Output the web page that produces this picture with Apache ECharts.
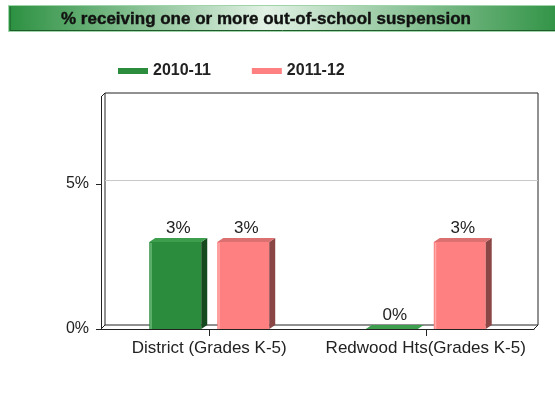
<!DOCTYPE html>
<html>
<head>
<meta charset="utf-8">
<script src="https://cdn.jsdelivr.net/npm/echarts@6/dist/echarts.min.js"></script>
<style>
html,body{margin:0;padding:0;background:#fff;}
#chart{width:555px;height:401px;}
</style>
</head>
<body>
<div id="chart"></div>
<script>
// ---- data ----
const chartTitle = '% receiving one or more out-of-school suspension';
const categories = ['District (Grades K-5)', 'Redwood Hts(Grades K-5)'];
const seriesNames = ['2010-11', '2011-12'];
const values2010 = [3, 0];
const values2011 = [3, 3];
const yTickValues = [0, 5];
const yMax = 8;

// ---- layout / style ----
const FONT = '"Liberation Sans", Arial, sans-serif';
const front = { left: 101, right: 21, top: 97, bottom: 72 };
const depth = 4;
const back = { left: front.left + depth, right: front.right - depth, top: front.top - depth, bottom: front.bottom + depth };
const W = 555, H = 401;
const barDx = 6, barDy = 4;
const palettes = [
  { front: '#2a8c3c', side: '#17491f', top: '#3d9e4d', hi: '#7cc489' },
  { front: '#ff8080', side: '#8a4545', top: '#dc7070', hi: '#ffb3b3' }
];

function make3DRender(idx) {
  const sign = idx === 0 ? -1 : 1;
  const pal = palettes[idx];
  return function (params, api) {
    const cat = api.value(0), val = api.value(1);
    const base = api.coord([cat, 0]);
    const topPt = api.coord([cat, val]);
    const band = api.size([1, 0])[0];
    const w = band * 0.24;
    const cx = base[0] + sign * band * 0.157;
    const x0 = cx - w / 2, x1 = cx + w / 2;
    const yb = base[1], yt = topPt[1];
    const children = [];
    if (yb - yt >= 1) {
      children.push({ type: 'rect', shape: { x: x0, y: yt, width: w, height: yb - yt }, style: { fill: pal.front } });
      children.push({ type: 'rect', shape: { x: x0 + 1, y: yt + 1, width: 1.5, height: yb - yt - 1 }, style: { fill: pal.hi, opacity: 0.8 } });
      children.push({ type: 'polygon', shape: { points: [[x1, yt], [x1 + barDx, yt - barDy], [x1 + barDx, yb - barDy], [x1, yb]] }, style: { fill: pal.side } });
    }
    children.push({ type: 'polygon', shape: { points: [[x0, yt], [x0 + barDx, yt - barDy], [x1 + barDx, yt - barDy], [x1, yt]] }, style: { fill: pal.top } });
    children.push({ type: 'text', style: { text: val + '%', x: cx + barDx / 2, y: yt - barDy - 10, align: 'center', verticalAlign: 'middle', fill: '#222', font: '17px ' + FONT } });
    return { type: 'group', children: children };
  };
}

const chart = echarts.init(document.getElementById('chart'), null, { renderer: 'canvas' });

const fl = front.left, fb = H - front.bottom, fr = W - front.right, ft = front.top;

const option = {
  animation: false,
  backgroundColor: '#fff',
  textStyle: { fontFamily: FONT },
  legend: {
    left: 113, top: 58,
    itemWidth: 30, itemHeight: 6, itemGap: 41,
    icon: 'rect',
    textStyle: { fontSize: 16, fontWeight: 'bold', color: '#222', fontFamily: FONT },
    data: seriesNames
  },
  grid: [
    { left: front.left, right: front.right, top: front.top, bottom: front.bottom, containLabel: false },
    { left: back.left, right: back.right, top: back.top, bottom: back.bottom, containLabel: false, show: true, borderColor: '#222', borderWidth: 1, backgroundColor: 'transparent' }
  ],
  xAxis: [
    {
      gridIndex: 0, type: 'category', data: categories,
      axisLine: { lineStyle: { color: '#222', width: 1 } },
      axisTick: { show: false },
      axisLabel: { interval: 0, fontSize: 17, color: '#222', margin: 11, fontFamily: FONT, hideOverlap: false }
    },
    { gridIndex: 1, type: 'category', data: categories, show: false }
  ],
  yAxis: [
    {
      gridIndex: 0, type: 'value', min: 0, max: yMax, interval: 5,
      axisLine: { show: true, lineStyle: { color: '#222', width: 1 } },
      axisTick: { show: true, length: 5, customValues: yTickValues, lineStyle: { color: '#222' } },
      axisLabel: { fontSize: 16, color: '#222', margin: 12, customValues: yTickValues, formatter: '{value}%', fontFamily: FONT },
      splitLine: { show: false }
    },
    {
      gridIndex: 1, type: 'value', min: 0, max: yMax, interval: 5,
      axisLine: { show: false }, axisTick: { show: false }, axisLabel: { show: false },
      splitLine: { show: true, showMinLine: false, showMaxLine: false, lineStyle: { color: '#c8c8c8', width: 1 } }
    }
  ],
  series: [
    {
      name: seriesNames[0], type: 'custom', xAxisIndex: 0, yAxisIndex: 0, clip: false,
      itemStyle: { color: palettes[0].front },
      data: values2010.map((v, i) => [i, v]),
      renderItem: make3DRender(0), z: 5
    },
    {
      name: seriesNames[1], type: 'custom', xAxisIndex: 0, yAxisIndex: 0, clip: false,
      itemStyle: { color: palettes[1].front },
      data: values2011.map((v, i) => [i, v]),
      renderItem: make3DRender(1), z: 5
    }
  ],
  graphic: [
    {
      type: 'rect', z: 10,
      shape: { x: 8.5, y: 5.5, width: 560, height: 26 },
      style: {
        fill: { type: 'linear', x: 0, y: 0, x2: 1, y2: 0, colorStops: [
          { offset: 0, color: '#2b9040' }, { offset: 0.46, color: '#e2f1e5' }, { offset: 1, color: '#2b9040' }
        ] },
        stroke: '#9fd4aa', lineWidth: 1
      }
    },
    { type: 'line', z: 11, shape: { x1: 10, y1: 30.5, x2: 555, y2: 30.5 }, style: { stroke: '#1f5a29', lineWidth: 1 } },
    { type: 'line', z: 11, shape: { x1: 10.5, y1: 7, x2: 10.5, y2: 30 }, style: { stroke: '#1f5a29', lineWidth: 1, opacity: 0.6 } },
    { type: 'text', z: 12, x: 266, y: 19, style: { text: chartTitle, font: 'bold 17px ' + FONT, fill: '#111', align: 'center', verticalAlign: 'middle', stroke: '#111', lineWidth: 0.4 } },
    // 3D corner joins between front axes and back wall
    { type: 'line', z: 3, shape: { x1: fl, y1: ft, x2: fl + depth, y2: ft - depth }, style: { stroke: '#222', lineWidth: 1 } },
    { type: 'line', z: 3, shape: { x1: fl, y1: fb, x2: fl + depth, y2: fb - depth }, style: { stroke: '#222', lineWidth: 1 } },
    { type: 'line', z: 3, shape: { x1: fr, y1: fb, x2: fr + depth, y2: fb - depth }, style: { stroke: '#222', lineWidth: 1 } }
  ]
};
chart.setOption(option);

// category tick marks at category centres, positioned through the x axis scale
const tickGraphics = categories.map(function (c, i) {
  const p = chart.convertToPixel({ xAxisIndex: 0, yAxisIndex: 0 }, [i, 0]);
  const tx = Math.round(p[0]);
  return { type: 'rect', z: 20, shape: { x: tx, y: Math.round(p[1]), width: 1, height: 7 }, style: { fill: '#222' } };
});
chart.setOption({ graphic: option.graphic.concat(tickGraphics) });
</script>
</body>
</html>
